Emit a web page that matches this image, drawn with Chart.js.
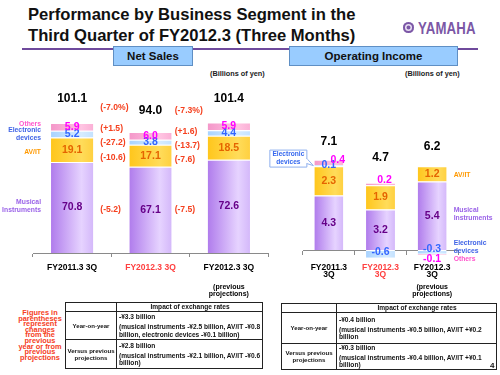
<!DOCTYPE html>
<html>
<head>
<meta charset="utf-8">
<script src="https://cdn.jsdelivr.net/npm/chart.js@4/dist/chart.umd.min.js"></script>
<style>
  body { margin: 0; width: 500px; height: 375px; position: relative; overflow: hidden; background: #fff;
         font-family: "Liberation Sans", Arial, sans-serif; color: #111; }
  .abs { position: absolute; }
  #title { left: 28px; top: 4px; font-size: 16.6px; font-weight: bold; line-height: 21px; white-space: nowrap; }
  #rule { left: 22px; top: 48px; width: 456px; height: 2px; background: #6f4a9c; }
  #logo { left: 403px; top: 20px; height: 16px; }
  #logo .mark { position: absolute; left: 0; top: 2px; width: 11px; height: 11px; border-radius: 50%;
                background: #7b57a6; box-shadow: inset 0 0 0 2px #7b57a6, inset 0 0 0 3.5px #e9dff3; }
  #logo .word { position: absolute; left: 15px; top: -1px; font-size: 16.5px; font-weight: bold; color: #7b57a6;
                transform: scaleX(0.8); transform-origin: left top; letter-spacing: 0.2px; }
  .hbox { background: #99ccff; border: 1px solid #5f8fc4; font-weight: bold; font-size: 11.5px;
          text-align: center; line-height: 18px; }
  .unit { font-size: 7.3px; font-weight: bold; color: #222; }
  canvas { position: absolute; }
  #note { left: 18px; top: 310px; width: 44px; text-align: center; color: #f5401e; font-weight: bold;
          font-size: 7.4px; line-height: 5.6px; }
  table.fx { position: absolute; border-collapse: collapse; font-size: 6.6px; font-weight: bold; color: #111;
             table-layout: fixed; }
  table.fx td { border: 1.3px solid #222; padding: 0 1px 0 2px; vertical-align: middle; line-height: 7.2px; }
  table.fx td.h { text-align: center; }
  table.fx td.side { font-size: 6.1px; padding: 0; }
  table.fx .lead { margin-bottom: 3px; }
  #pg { left: 490px; top: 361px; font-size: 8px; font-weight: bold; }
</style>
</head>
<body>
<div id="title" class="abs">Performance by Business Segment in the<br>Third Quarter of FY2012.3 (Three Months)</div>
<div id="rule" class="abs"></div>
<div id="logo" class="abs"><div class="mark"></div><div class="word">YAMAHA</div></div>

<div class="abs hbox" style="left:113px;top:46px;width:78px;height:18px;">Net Sales</div>
<div class="abs hbox" style="left:289px;top:46px;width:167px;height:18px;">Operating Income</div>
<div class="abs unit" style="left:210px;top:69px;">(Billions of yen)</div>
<div class="abs unit" style="left:405px;top:69px;">(Billions of yen)</div>

<canvas id="salesChart" width="275" height="217" style="left:0;top:88px;"></canvas>
<canvas id="incomeChart" width="245" height="217" style="left:255px;top:88px;"></canvas>

<div id="note" class="abs">Figures in parentheses represent changes from the previous year or from previous projections</div>

<table class="fx" style="left:65px;top:302px;width:197px;">
  <colgroup><col style="width:51px"><col style="width:146px"></colgroup>
  <tr style="height:9px"><td></td><td class="h">Impact of exchange rates</td></tr>
  <tr style="height:28px"><td class="h side">Year-on-year</td>
    <td><div class="lead">-¥3.3 billion</div>(musical instruments -¥2.5 billion, AV/IT -¥0.8 billion, electronic devices -¥0.1 billion)</td></tr>
  <tr style="height:29px"><td class="h side">Versus previous projections</td>
    <td><div class="lead">-¥2.8 billion</div>(musical instruments -¥2.1 billion, AV/IT -¥0.6 billion)</td></tr>
</table>

<table class="fx" style="left:281px;top:303px;width:215px;">
  <colgroup><col style="width:55px"><col style="width:160px"></colgroup>
  <tr style="height:9px"><td></td><td class="h">Impact of exchange rates</td></tr>
  <tr style="height:31px"><td class="h side">Year-on-year</td>
    <td><div class="lead">-¥0.4 billion</div>(musical instruments -¥0.5 billion, AV/IT +¥0.2 billion</td></tr>
  <tr style="height:25px"><td class="h side">Versus previous projections</td>
    <td><div class="lead">-¥0.3 billion</div>(musical instruments -¥0.4 billion, AV/IT +¥0.1 billion)</td></tr>
</table>

<div id="pg" class="abs">4</div>

<script>
// periods on the x axis
const periodLines = [["FY2011.3 3Q"], ["FY2012.3 3Q"], ["FY2012.3 3Q", "(previous", "projections)"]];
const incomePeriodLines = [["FY2011.3", "3Q"], ["FY2012.3", "3Q"], ["FY2012.3", "3Q", "(previous", "projections)"]];
const periodLabels = ["FY2011.3 3Q", "FY2012.3 3Q", "FY2012.3 3Q (previous projections)"];

// Net sales by segment (billions of yen)
const salesMusical = [70.8, 67.1, 72.6];
const salesAvit = [19.1, 17.1, 18.5];
const salesElectronic = [5.2, 3.8, 4.4];
const salesOthers = [5.9, 6.0, 5.9];
const salesTotal = [101.1, 94.0, 101.4];

// changes shown between the bars: [musical, av/it, electronic, others]
const salesChangeYoY = ["(-5.2)", "(-10.6)", "(-27.2)", "(+1.5)"];
const salesChangeProj = ["(-7.5)", "(-7.6)", "(-13.7)", "(+1.6)"];
const salesTotalChange = ["(-7.0%)", "(-7.3%)"];

// Operating income by segment (billions of yen)
const incomeMusical = [4.3, 3.2, 5.4];
const incomeAvit = [2.3, 1.9, 1.2];
const incomeElectronic = [0.1, -0.6, -0.3];
const incomeOthers = [0.4, 0.2, -0.1];
const incomeTotal = [7.1, 4.7, 6.2];

const segmentNames = [["Musical", "Instruments"], ["AV/IT"], ["Electronic", "devices"], ["Others"]];

// colours
const valueColors = ["#660088", "#e56400", "#3366ff", "#ff00ff"];
const nameColors = ["#9a62e8", "#ff9900", "#3f63e6", "#ff55cc"];
const fillStops = [
  ["#b07cec", "#e6d3ff", "#d4b8fa"],
  ["#ffc61c", "#ffdc5a", "#ffd040"],
  ["#a9d3ff", "#d6ecff", "#c4e2ff"],
  ["#f497c9", "#ffc4e2", "#fbb0d6"]
];
const RED = "#f5401e";
const FONT = '"Liberation Sans", Arial, sans-serif';

function barGradient(stops, barPct) {
  return (c) => {
    const chart = c.chart;
    const xs = chart.scales && chart.scales.x;
    if (!chart.chartArea || !xs || c.dataIndex === undefined) return stops[1];
    const cx = xs.getPixelForValue(c.dataIndex);
    const half = xs.width / chart.data.labels.length * barPct / 2;
    const g = chart.ctx.createLinearGradient(cx - half, 0, cx + half, 0);
    g.addColorStop(0, stops[0]);
    g.addColorStop(0.72, stops[1]);
    g.addColorStop(1, stops[2]);
    return g;
  };
}

function text(ctx, s, x, y, size, color, align) {
  ctx.save();
  ctx.font = "bold " + size + "px " + FONT;
  ctx.fillStyle = color;
  ctx.textAlign = align || "center";
  ctx.textBaseline = "middle";
  ctx.fillText(s, x, y);
  ctx.restore();
}

function lines(ctx, arr, x, y, size, lh, color, align) {
  const start = y - (arr.length - 1) * lh / 2;
  arr.forEach((s, k) => text(ctx, s, x, start + k * lh, size, color, align));
}

function segMid(chart, d, i) {
  const bar = chart.getDatasetMeta(d).data[i];
  return { x: bar.x, y: (bar.y + bar.base) / 2, top: Math.min(bar.y, bar.base), w: bar.width };
}

function makeDatasets(series, barPct) {
  return series.map((vals, d) => ({
    label: segmentNames[d].join(" "),
    data: vals,
    backgroundColor: barGradient(fillStops[d], barPct),
    borderColor: "#ffffff",
    borderWidth: { top: 1, left: 0, right: 0, bottom: 0 },
    borderSkipped: false,
    categoryPercentage: 1,
    barPercentage: barPct
  }));
}

function baseOptions(padding, yMin, yMax, xPosition) {
  return {
    responsive: false,
    animation: false,
    devicePixelRatio: 1,
    layout: { padding: padding },
    plugins: { legend: { display: false }, tooltip: { enabled: false } },
    scales: {
      x: {
        stacked: true,
        position: xPosition,
        grid: { display: true, drawOnChartArea: false, tickLength: 4, color: "#8a8a8a", lineWidth: 1 },
        border: { color: "#8a8a8a", width: 1 },
        ticks: { display: false }
      },
      y: { stacked: true, display: false, min: yMin, max: yMax }
    }
  };
}

// ---- Net sales chart
const salesSeries = [salesMusical, salesAvit, salesElectronic, salesOthers];
const salesTotalDy = [-24, -21, -24];
const yoyDy = [0, 2, 0, -7];
const projDy = [0, 4, 3, -4];
const leftNameDy = [-1.5, 2, 0, -3];

const salesLabels = {
  id: "salesLabels",
  afterDraw(chart) {
    const ctx = chart.ctx;
    const xs = chart.scales.x;
    const bottom = xs.bottom;
    salesSeries.forEach((vals, d) => {
      vals.forEach((v, i) => {
        const m = segMid(chart, d, i);
        text(ctx, v.toFixed(1), m.x, m.y, 10.5, valueColors[d]);
      });
    });
    salesTotal.forEach((t, i) => {
      const m = segMid(chart, 3, i);
      text(ctx, t.toFixed(1), m.x, m.top + salesTotalDy[i], 12, "#000");
    });
    // changes between bars, aligned with the FY2012.3 bar segments
    const b0 = segMid(chart, 0, 0), b1 = segMid(chart, 0, 1);
    salesChangeYoY.forEach((s, d) => {
      const m = segMid(chart, d, 1);
      text(ctx, s, b0.x + b0.w / 2 + 7, m.y + yoyDy[d], 8.6, RED, "left");
    });
    salesChangeProj.forEach((s, d) => {
      const m = segMid(chart, d, 1);
      text(ctx, s, b1.x + b1.w / 2 + 3, m.y + projDy[d], 8.6, RED, "left");
    });
    text(ctx, salesTotalChange[0], b0.x + b0.w / 2 + 7, 20, 8.6, RED, "left");
    text(ctx, salesTotalChange[1], b1.x + b1.w / 2 + 3, 23, 8.6, RED, "left");
    // segment names left of the first bar
    segmentNames.forEach((nm, d) => {
      const m = segMid(chart, d, 0);
      lines(ctx, nm, m.x - m.w / 2 - 10, m.y + leftNameDy[d], 6.8, 8.5, nameColors[d], "right");
    });
    // period labels
    periodLines.forEach((arr, i) => {
      const x = xs.getPixelForValue(i);
      text(ctx, arr[0], x, bottom + 11, 8.5, i === 1 ? "#ff4040" : "#000");
      arr.slice(1).forEach((s, k) => text(ctx, s, x, bottom + 30 + k * 7, 7, "#000"));
    });
  }
};

new Chart(document.getElementById("salesChart"), {
  type: "bar",
  data: { labels: periodLabels, datasets: makeDatasets(salesSeries, 0.54) },
  options: baseOptions({ left: 33, right: 7, top: 0, bottom: 48 }, 0, 128.3, "bottom"),
  plugins: [salesLabels]
});

// ---- Operating income chart
const incomeSeries = [incomeMusical, incomeAvit, incomeElectronic, incomeOthers];
const incomeTotalDy = [-18, -25, -20];
const incomeShift = { "3-0": [9, -2], "3-1": [4, -4], "2-1": [0, -2], "2-2": [0, -3], "3-2": [0, 5] };
const rightNameDy = [-1.5, 1, -5, 5];

const incomeLabels = {
  id: "incomeLabels",
  afterDraw(chart) {
    const ctx = chart.ctx;
    const xs = chart.scales.x;
    const ys = chart.scales.y;
    const base = ys.getPixelForValue(0);
    incomeSeries.forEach((vals, d) => {
      vals.forEach((v, i) => {
        const m = segMid(chart, d, i);
        const s = incomeShift[d + "-" + i] || [0, 0];
        text(ctx, v.toFixed(1), m.x + s[0], m.y + s[1], 10.5, valueColors[d]);
      });
    });
    incomeTotal.forEach((t, i) => {
      let top = base;
      incomeSeries.forEach((vals, d) => { const m = segMid(chart, d, i); if (vals[i] > 0) top = Math.min(top, m.top); });
      text(ctx, t.toFixed(1), xs.getPixelForValue(i), top + incomeTotalDy[i], 12, "#000");
    });
    // segment names right of the last bar
    segmentNames.forEach((nm, d) => {
      const m = segMid(chart, d, 2);
      lines(ctx, nm, m.x + m.w / 2 + 7, m.y + rightNameDy[d], 6.8, 8.5, nameColors[d], "left");
    });
    // callout for electronic devices on the first bar
    const e = segMid(chart, 2, 0);
    const bx = e.x - e.w / 2 - 45, by = e.y - 16;
    ctx.save();
    ctx.fillStyle = "#fff";
    ctx.strokeStyle = "#8fb0ee";
    ctx.lineWidth = 1;
    ctx.beginPath();
    ctx.rect(bx + 0.5, by + 0.5, 37, 17);
    ctx.fill();
    ctx.stroke();
    ctx.beginPath();
    ctx.moveTo(bx + 37.5, by + 9);
    ctx.lineTo(e.x - e.w / 2 - 1, e.y);
    ctx.lineTo(bx + 37.5, by + 14);
    ctx.fill();
    ctx.stroke();
    ctx.fillStyle = "#fff";
    ctx.fillRect(bx + 36, by + 9.5, 2, 4);
    ctx.restore();
    lines(ctx, ["Electronic", "devices"], bx + 19, by + 9, 6.6, 8, "#3366ee");
    // period labels
    incomePeriodLines.forEach((arr, i) => {
      const x = xs.getPixelForValue(i);
      const c = i === 1 ? "#ff4040" : "#000";
      text(ctx, arr[0], x, base + 18, 8.5, c);
      text(ctx, arr[1], x, base + 25, 8.5, c);
      arr.slice(2).forEach((s, k) => text(ctx, s, x, base + 37 + k * 7, 7, "#000"));
    });
  }
};

new Chart(document.getElementById("incomeChart"), {
  type: "bar",
  data: { labels: periodLabels, datasets: makeDatasets(incomeSeries, 0.56) },
  options: baseOptions({ left: 48, right: 42, top: 0, bottom: 40 }, -1.18, 12.76, { y: 0 }),
  plugins: [incomeLabels]
});
</script>
</body>
</html>
